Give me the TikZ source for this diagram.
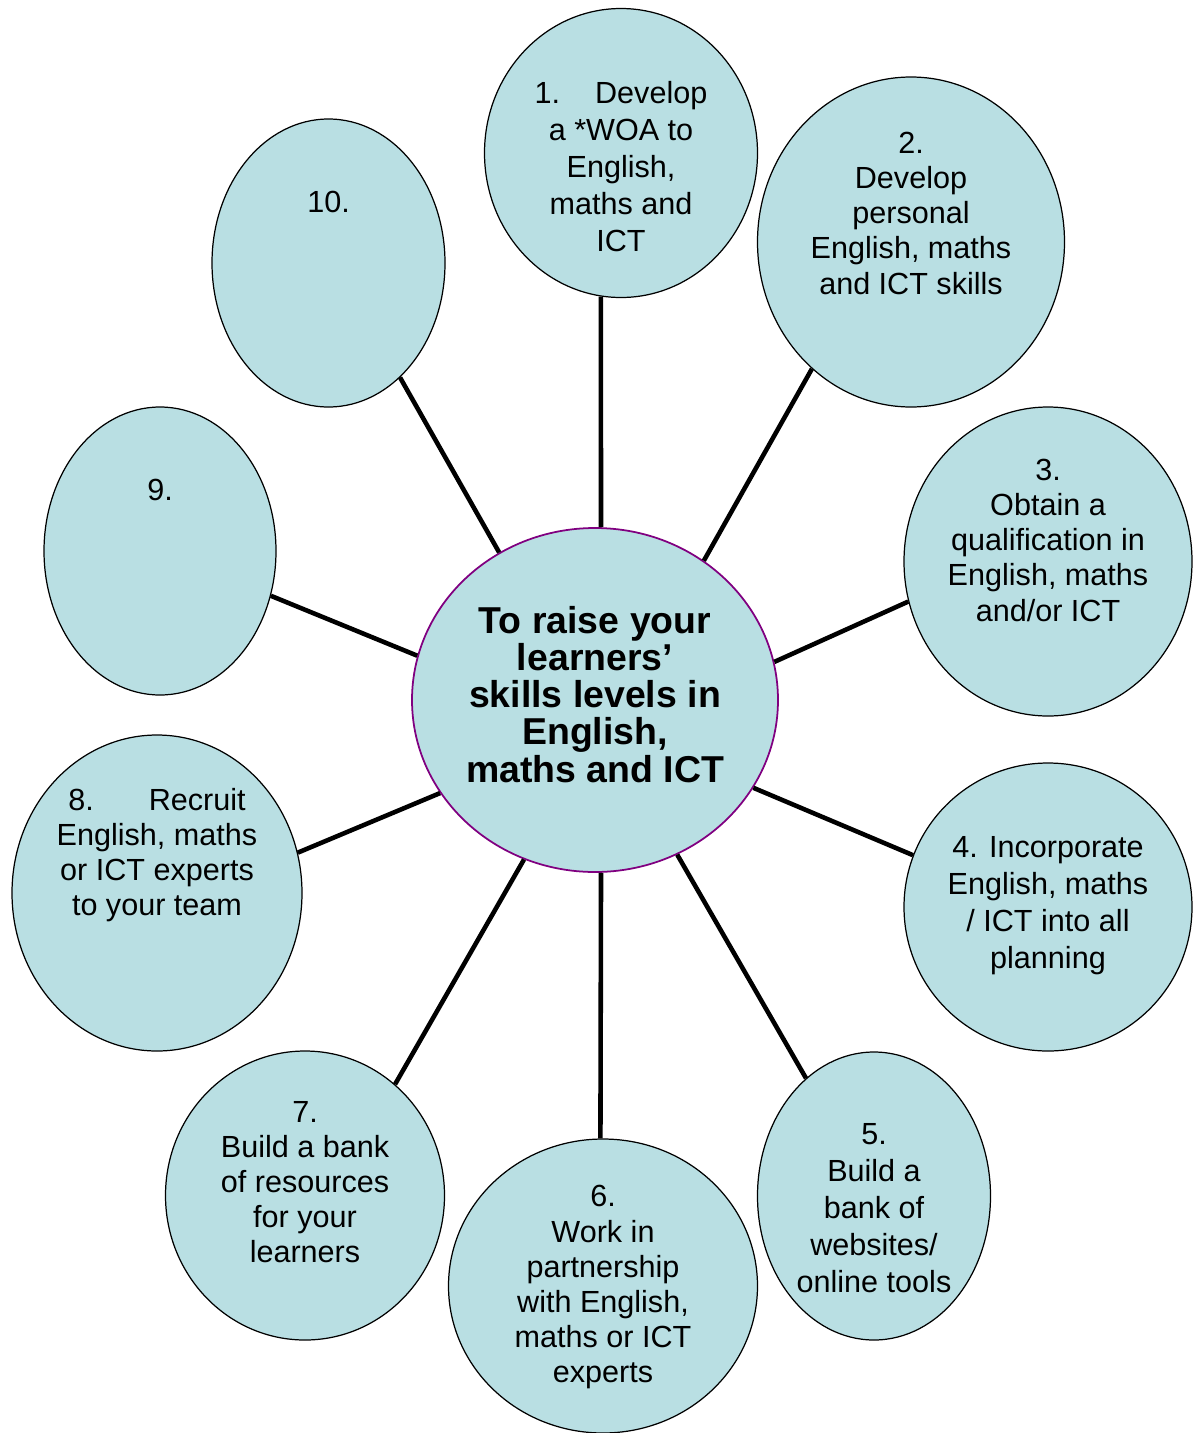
\documentclass[tikz,border=0pt]{standalone}
\usepackage{fontspec}
\setmainfont{Liberation Sans}
\usetikzlibrary{shapes.geometric}
\definecolor{bubblefill}{RGB}{185,223,227}
\definecolor{hubline}{RGB}{128,0,128}

\begin{document}
\begin{tikzpicture}[text depth=1pt]
\tikzstyle{bubble}=[ellipse,draw=black,fill=bubblefill,line width=0.7pt,inner sep=0pt]
\tikzstyle{hubble}=[ellipse,draw=hubline,fill=bubblefill,line width=1pt,inner sep=0pt]
\tikzstyle{txt}=[align=center,inner sep=0pt,font=\fontsize{17.4}{20}\selectfont]
\tikzstyle{widetxt}=[txt,font=\fontsize{17.4}{21}\selectfont]
\tikzstyle{hubtxt}=[align=center,inner sep=0pt,font=\bfseries\fontsize{21.3}{21.2}\selectfont]
\tikzstyle{spoke}=[line width=2.6pt,black]
\useasboundingbox (0,0) rectangle (23.84,-28.66);
% bubbles
\node[hubble,minimum width=7.32cm,minimum height=6.88cm] (hub) at (11.90,-14.00) {};
\node[bubble,minimum width=5.46cm,minimum height=5.78cm] (n1) at (12.42,-3.06) {};
\node[bubble,minimum width=6.14cm,minimum height=6.60cm] (n2) at (18.22,-4.84) {};
\node[bubble,minimum width=5.76cm,minimum height=6.18cm] (n3) at (20.96,-11.23) {};
\node[bubble,minimum width=5.76cm,minimum height=5.76cm] (n4) at (20.96,-18.14) {};
\node[bubble,minimum width=4.66cm,minimum height=5.76cm] (n5) at (17.48,-23.92) {};
\node[bubble,minimum width=6.18cm,minimum height=5.88cm] (n6) at (12.06,-25.72) {};
\node[bubble,minimum width=5.58cm,minimum height=5.78cm] (n7) at (6.10,-23.91) {};
\node[bubble,minimum width=5.80cm,minimum height=6.32cm] (n8) at (3.14,-17.86) {};
\node[bubble,minimum width=4.64cm,minimum height=5.76cm] (n9) at (3.20,-11.02) {};
\node[bubble,minimum width=4.66cm,minimum height=5.76cm] (n10) at (6.57,-5.26) {};
% spokes
\draw[spoke] (hub.88) -- (n1.262);
\draw[spoke] (hub.52.7) -- (n2.232.5);
\draw[spoke] (hub.12.7) -- (n3.196.9);
\draw[spoke] (hub.-29.9) -- (n4.159);
\draw[spoke] (hub.-62.4) -- (n5.120.3);
\draw[spoke] (hub.-88) -- (n6.91);
\draw[spoke] (hub.246.2) -- (n7.51.5);
\draw[spoke] (hub.211.5) -- (n8.16.2);
\draw[spoke] (hub.166) -- (n9.-22.3);
\draw[spoke] (hub.123.2) -- (n10.-58.9);
% texts
\node[hubtxt] (th) at (11.90,-13.90) {To raise your\\learners’\\skills levels in\\English,\\maths and ICT};
\node[widetxt] (t1) at (12.42,-3.34) {1.\hspace{0.7cm}Develop\\a *WOA to\\English,\\maths and\\ICT};
\node[txt] (t2) at (18.22,-4.28) {2.\\Develop\\personal\\English, maths\\and ICT skills};
\node[txt] (t3) at (20.96,-10.82) {3.\\Obtain a\\qualification in\\English, maths\\and/or ICT};
\node[widetxt] (t4) at (20.96,-18.06) {4. Incorporate\\English, maths\\/ ICT into all\\planning};
\node[widetxt] (t5) at (17.48,-24.18) {5.\\Build a\\bank of\\websites/\\online tools};
\node[txt] (t6) at (12.06,-25.70) {6.\\Work in\\partnership\\with English,\\maths or ICT\\experts};
\node[txt] (t7) at (6.10,-23.66) {7.\\Build a bank\\of resources\\for your\\learners};
\node[txt] (t8) at (3.14,-17.06) {8.\hspace{1.1cm}Recruit\\English, maths\\or ICT experts\\to your team};
\node[txt] (t9) at (3.20,-9.82) {9.};
\node[txt] (t10) at (6.57,-4.06) {10.};
\end{tikzpicture}
\end{document}
